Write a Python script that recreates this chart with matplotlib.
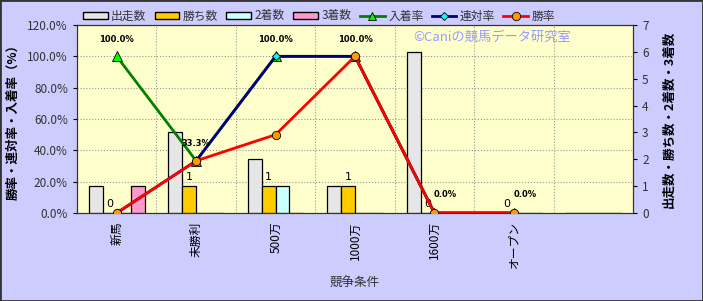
import matplotlib.pyplot as plt
import matplotlib.patches as mpatches
from matplotlib.lines import Line2D
from matplotlib.ticker import FuncFormatter, MultipleLocator
import numpy as np

plt.rcParams['font.family'] = ['Noto Sans CJK JP', 'DejaVu Sans']

categories = ['新馬', '未勝利', '500万', '1000万', '1600万', 'オープン', '']
starts = [1, 3, 2, 1, 6, 0, 0]
wins = [0, 1, 1, 1, 0, 0, 0]
seconds = [0, 0, 1, 0, 0, 0, 0]
thirds = [1, 0, 0, 0, 0, 0, 0]
place_rate = [100.0, 33.3, 100.0, 100.0, 0.0, 0.0]
quinella_rate = [0.0, 33.3, 100.0, 100.0, 0.0, 0.0]
win_rate = [0.0, 33.3, 50.0, 100.0, 0.0, 0.0]

bg_fig = '#CCCCFF'
bg_ax = '#FFFFCC'
c_start = '#E6E6E6'
c_win = '#FFCC00'
c_second = '#CCFFFF'
c_third = '#FF99CC'

fig = plt.figure(figsize=(7.03, 3.01), dpi=100, facecolor=bg_fig)
ax1 = fig.add_axes([77/703, 1 - 213/301, 556/703, 188/301])
ax1.set_facecolor(bg_ax)
ax2 = ax1.twinx()

x = np.arange(len(categories))
w = 0.175

# bars on the count axis
ax2.bar(x - 1.5*w, starts, w, color=c_start, edgecolor='black', linewidth=0.9, zorder=2)
ax2.bar(x - 0.5*w, wins, w, color=c_win, edgecolor='black', linewidth=0.9, zorder=2)
ax2.bar(x + 0.5*w, seconds, w, color=c_second, edgecolor='black', linewidth=0.9, zorder=2)
ax2.bar(x + 1.5*w, thirds, w, color=c_third, edgecolor='black', linewidth=0.9, zorder=2)
for i in range(6):
    ax2.annotate(str(wins[i]), (x[i] - 0.5*w, wins[i]), xytext=(0, 3), textcoords='offset points',
                 ha='center', va='bottom', fontsize=8, family='DejaVu Sans', zorder=5)

ax2.set_ylim(0, 7)
ax2.yaxis.set_major_locator(MultipleLocator(1))

# rate lines drawn above bars
ax3 = ax1.twinx()
ax3.set_ylim(0, 120)
ax3.axis('off')
xl = x[:6]
ax3.plot(xl, place_rate, color='#008000', linewidth=2, marker='^', markersize=7,
         markerfacecolor='#00FF00', markeredgecolor='black', markeredgewidth=0.6, zorder=3)
ax3.plot(xl, quinella_rate, color='#000080', linewidth=2, marker='D', markersize=4.5,
         markerfacecolor='#00FFFF', markeredgecolor='black', markeredgewidth=0.6, zorder=4)
ax3.plot(xl, win_rate, color='#FF0000', linewidth=2, marker='o', markersize=6,
         markerfacecolor='#FF9900', markeredgecolor='black', markeredgewidth=0.6, zorder=5)
for i in range(6):
    off = (8, 10) if place_rate[i] == 0 else (0, 9)
    ax3.annotate(f'{place_rate[i]:.1f}%', (xl[i], place_rate[i]), xytext=off, textcoords='offset points',
                 ha='center', va='bottom', fontsize=6, fontweight='bold', family='DejaVu Sans', zorder=6)

ax1.set_ylim(0, 120)
ax1.set_xlim(-0.5, 6.5)
ax1.yaxis.set_major_locator(MultipleLocator(20))
ax1.yaxis.set_major_formatter(FuncFormatter(lambda v, p: f'{v:.1f}%'))
ax1.set_xticks(x)
ax1.set_xticklabels(categories, rotation=90, fontsize=8.5)
ax1.set_xticks(np.arange(-0.5, 7, 1), minor=True)
ax1.grid(True, which='minor', axis='x', color='#999999', linestyle=':', linewidth=0.8)
ax1.grid(True, which='major', axis='y', color='#999999', linestyle=':', linewidth=0.8)
ax1.tick_params(axis='x', which='both', length=0, pad=6)
ax1.tick_params(axis='y', labelsize=8.5, labelcolor='#333333', length=3)
ax2.tick_params(axis='y', labelsize=8.5, labelcolor='#333333', length=3)
for ax in (ax1, ax2):
    for s in ax.spines.values():
        s.set_color('#333333')

ax1.set_ylabel('勝率・連対率・入着率（%）', fontsize=9, fontweight='bold', labelpad=6)
ax2.set_ylabel('出走数・勝ち数・2着数・3着数', fontsize=9, fontweight='bold', labelpad=10)
ax1.set_xlabel('競争条件', fontsize=9, color='#333333', labelpad=6)

ax1.text(0.605, 0.915, '©Caniの競馬データ研究室', transform=ax1.transAxes, fontsize=9.5,
         color='#9999FF', zorder=7)

handles = [
    mpatches.Patch(facecolor=c_start, edgecolor='black', label='出走数'),
    mpatches.Patch(facecolor=c_win, edgecolor='black', label='勝ち数'),
    mpatches.Patch(facecolor=c_second, edgecolor='black', label='2着数'),
    mpatches.Patch(facecolor=c_third, edgecolor='black', label='3着数'),
    Line2D([], [], color='#008000', linewidth=2, marker='^', markersize=6,
           markerfacecolor='#00FF00', markeredgecolor='black', markeredgewidth=0.6, label='入着率'),
    Line2D([], [], color='#000080', linewidth=2, marker='D', markersize=4,
           markerfacecolor='#00FFFF', markeredgecolor='black', markeredgewidth=0.6, label='連対率'),
    Line2D([], [], color='#FF0000', linewidth=2, marker='o', markersize=6,
           markerfacecolor='#FF9900', markeredgecolor='black', markeredgewidth=0.6, label='勝率'),
]
leg = fig.legend(handles=handles, loc='center', bbox_to_anchor=(319/703, 1 - 16/301), ncol=7,
                 frameon=False, fontsize=8.5, handlelength=2.1, handleheight=0.6,
                 handletextpad=0.3, columnspacing=0.7, borderaxespad=0)
for t in leg.get_texts():
    t.set_color('#333333')

fig.patches.append(mpatches.Rectangle((0, 0), 1, 1, transform=fig.transFigure, fill=False,
                                      edgecolor='#333333', linewidth=2))

fig.savefig('out.png', dpi=100, facecolor=bg_fig)
